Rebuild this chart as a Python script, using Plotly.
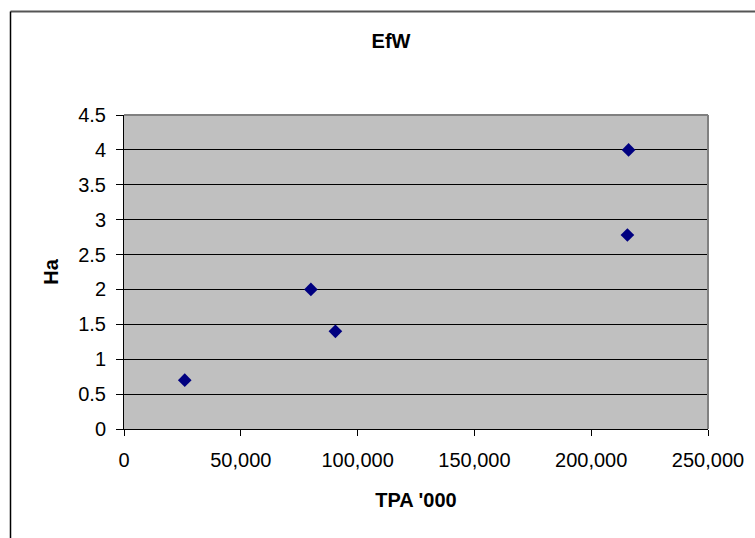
import plotly.graph_objects as go

# Data
tpa_000 = [26000, 80000, 90500, 216000, 215500]
ha = [0.7, 2.0, 1.4, 4.0, 2.78]

title_text = "EfW"
x_title = "TPA '000"
y_title = "Ha"
x_ticks = [0, 50000, 100000, 150000, 200000, 250000]
y_ticks = [0, 0.5, 1, 1.5, 2, 2.5, 3, 3.5, 4, 4.5]

FONT = "Arial, Liberation Sans, sans-serif"

fig = go.Figure()
fig.add_trace(go.Scatter(
    x=tpa_000, y=ha, mode="markers",
    marker=dict(symbol="diamond", size=10.5, color="#000080",
                line=dict(width=0)),
    showlegend=False,
))

L, R, T, B = 124, 47, 115, 109
W, H = 755, 538
pw, ph = W - L - R, H - T - B

fig.update_layout(
    width=W, height=H,
    margin=dict(l=L, r=R, t=T, b=B, pad=0),
    paper_bgcolor="white",
    plot_bgcolor="#C0C0C0",
    font=dict(family=FONT, color="black", size=20),
    title=dict(text="<b>" + title_text + "</b>", x=391 / W, xanchor="center",
               y=1 - 41 / H, yanchor="middle",
               font=dict(family=FONT, size=20, color="black")),
    xaxis=dict(
        range=[0, 250000], tickvals=x_ticks, tickformat=",d",
        showgrid=False, zeroline=False,
        showline=True, linecolor="black", linewidth=1,
        ticks="outside", ticklen=6, tickcolor="black", tickwidth=1,
        tickfont=dict(family=FONT, size=20, color="black"),
        ticklabelstandoff=7,
        title=dict(text="<b>" + x_title + "</b>", standoff=22,
                   font=dict(family=FONT, size=20, color="black")),
    ),
    yaxis=dict(
        range=[0, 4.5], tickvals=y_ticks,
        showgrid=True, gridcolor="black", gridwidth=1,
        zeroline=False,
        showline=True, linecolor="black", linewidth=1,
        ticks="outside", ticklen=7, tickcolor="black", tickwidth=1,
        tickfont=dict(family=FONT, size=20, color="black"),
        ticklabelstandoff=6,
        title=dict(text="<b>" + y_title + "</b>", standoff=14,
                   font=dict(family=FONT, size=20, color="black")),
    ),
)

# gray plot-area border on top and right
fig.add_shape(type="line", xref="paper", yref="paper", x0=0, x1=1, y0=1, y1=1,
              line=dict(color="#808080", width=2), layer="above")
fig.add_shape(type="line", xref="paper", yref="paper", x0=1, x1=1, y0=0, y1=1,
              line=dict(color="#808080", width=2), layer="above")

# outer chart-area border (top and left visible, others beyond the picture)
bx = (10.5 - L) / pw
by = 1 + (T - 11.5) / ph
fig.add_shape(type="line", xref="paper", yref="paper", x0=bx, x1=3, y0=by, y1=by,
              line=dict(color="#555555", width=2))
fig.add_shape(type="line", xref="paper", yref="paper", x0=bx, x1=bx, y0=by, y1=-3,
              line=dict(color="black", width=1.5))

fig.write_html("out.html")
